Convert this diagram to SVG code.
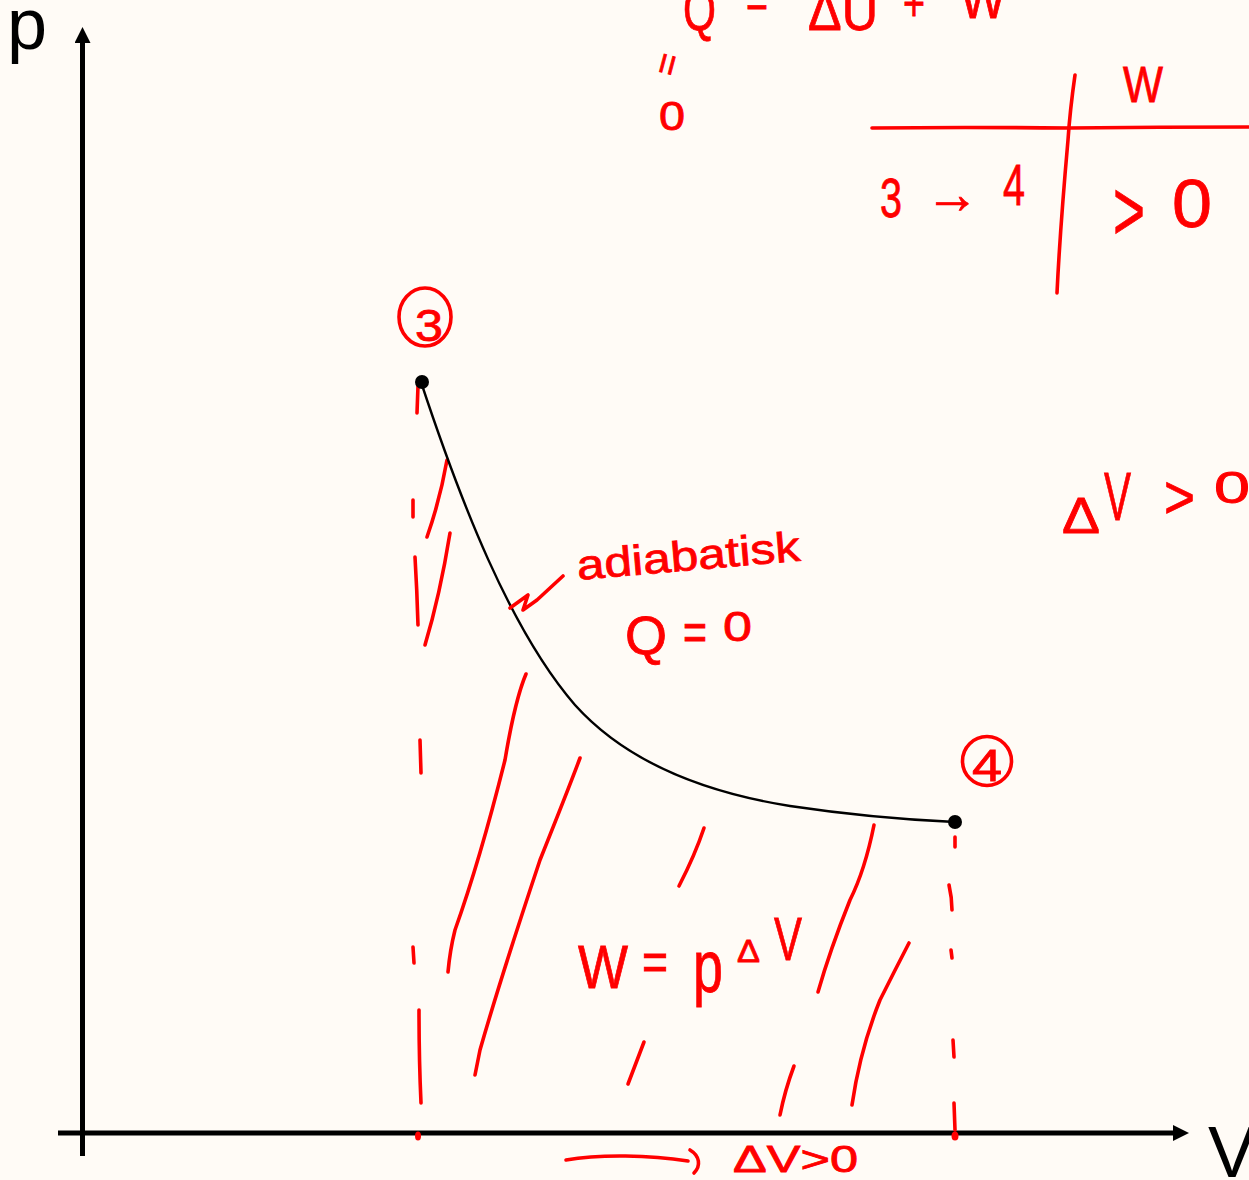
<svg xmlns="http://www.w3.org/2000/svg" width="1249" height="1180" viewBox="0 0 1249 1180">
<defs>
<marker id="axhead" viewBox="0 -8 16 16" markerWidth="16" markerHeight="16" refX="1" refY="0" markerUnits="userSpaceOnUse" orient="auto">
<path d="M0,-8 L16,0 L0,8 z" fill="#000"/>
</marker>
<style>
.ax{stroke:#000;stroke-width:5;fill:none}
.crv{stroke:#000;stroke-width:2.4;fill:none}
.r{stroke:#ff0000;stroke-width:3.6;fill:none;stroke-linecap:round;stroke-linejoin:round}
.rt{fill:#ff0000;stroke:#ff0000;stroke-width:0.8;font-family:"Liberation Sans",Arial,sans-serif}
.bt{fill:#000;font-family:"Liberation Sans",Arial,sans-serif}
</style>
</defs>
<rect width="1249" height="1180" fill="#fffbf6"/>

<g id="axes">
<line class="ax" x1="82.5" y1="1156" x2="82.5" y2="42" marker-end="url(#axhead)"/>
<line class="ax" x1="58" y1="1133" x2="1174" y2="1133" marker-end="url(#axhead)"/>
<text class="bt" x="7" y="49" font-size="72">p</text>
<text class="bt" x="1208" y="1177" font-size="72">V</text>
</g>

<g id="hatching">
<path class="r" d="M418,386 L417,413"/>
<path class="r" d="M413,500 L413,517"/>
<path class="r" d="M415,557 Q417,590 418,625"/>
<path class="r" d="M420,740 L421,773"/>
<path class="r" d="M413,947 L414,963"/>
<path class="r" d="M419,1010 Q419,1060 421,1103"/>
<path class="r" d="M955,837 L955,847"/>
<path class="r" d="M949,885 Q952,898 952,910"/>
<path class="r" d="M951,950 L952,958"/>
<path class="r" d="M953,1040 L954,1057"/>
<path class="r" d="M954,1103 L955,1130"/>
<path class="r" d="M447,460 Q440,500 427,537"/>
<path class="r" d="M450,533 Q440,595 425,645"/>
<path class="r" d="M526,674 Q515,700 505,760 Q480,860 455,930 Q450,950 448,972"/>
<path class="r" d="M580,758 Q570,785 540,860 Q500,980 480,1050 L475,1075"/>
<path class="r" d="M704,828 Q695,855 679,886"/>
<path class="r" d="M644,1042 L628,1084"/>
<path class="r" d="M794,1066 Q785,1090 780,1115"/>
<path class="r" d="M874,825 Q865,870 850,900 Q830,950 818,992"/>
<path class="r" d="M909,943 Q895,970 880,1000 Q860,1050 852,1105"/>
<ellipse cx="418" cy="1136" rx="3" ry="4.5" fill="#ff0000"/>
<ellipse cx="955" cy="1136" rx="3.5" ry="4.5" fill="#ff0000"/>
</g>

<g id="connectors">
<path id="adiabat-3-4" class="crv" d="M421,382 C460,500 510,630 575,705 C620,755 690,790 790,806 C850,815 910,820 955,822"/>
<path class="r" d="M510,608 L528,595 L523,610 L537,600 L563,576"/>
<path class="r" d="M566,1160 C600,1154 650,1155 688,1161"/>
<path class="r" d="M690,1150 C700,1156 701,1166 694,1173"/>
</g>

<g id="state-3">
<ellipse cx="425" cy="317" rx="26" ry="29" class="r"/>
<text class="rt" x="415" y="341" font-size="44" textLength="28" lengthAdjust="spacingAndGlyphs">3</text>
<circle cx="422" cy="382" r="7" fill="#000"/>
</g>

<g id="state-4">
<circle cx="987" cy="761" r="24.5" class="r"/>
<text class="rt" x="972" y="781" font-size="44" textLength="30" lengthAdjust="spacingAndGlyphs">4</text>
<circle cx="955" cy="822" r="7" fill="#000"/>
</g>

<g id="first-law">
<text class="rt" x="683" y="30" font-size="60" textLength="33" lengthAdjust="spacingAndGlyphs">Q</text>
<text class="rt" x="746" y="17" font-size="50" textLength="22" lengthAdjust="spacingAndGlyphs">=</text>
<text class="rt" x="808" y="30" font-size="55" textLength="70" lengthAdjust="spacingAndGlyphs">ΔU</text>
<text class="rt" x="903" y="20" font-size="50" textLength="22" lengthAdjust="spacingAndGlyphs">+</text>
<text class="rt" x="960" y="18" font-size="55" textLength="46" lengthAdjust="spacingAndGlyphs">W</text>
<text class="rt" x="0" y="0" font-size="36" textLength="22" lengthAdjust="spacingAndGlyphs" transform="translate(676,78) rotate(-75)">=</text>
<text class="rt" x="659" y="130" font-size="40" textLength="26" lengthAdjust="spacingAndGlyphs">0</text>
</g>

<g id="table">
<path class="r" d="M872,128 Q960,127 1069,128 Q1160,127 1249,127"/>
<path class="r" d="M1075,75 Q1070,110 1068,140 Q1060,230 1057,293"/>
<text class="rt" x="1123" y="102" font-size="50" textLength="40" lengthAdjust="spacingAndGlyphs">W</text>
<text class="rt" x="880" y="217" font-size="56" textLength="22" lengthAdjust="spacingAndGlyphs">3</text>
<text class="rt" x="925" y="213" font-size="56" textLength="54" lengthAdjust="spacingAndGlyphs">→</text>
<text class="rt" x="1003" y="205" font-size="58" textLength="22" lengthAdjust="spacingAndGlyphs">4</text>
<text class="rt" x="1113" y="240" font-size="85" textLength="32" lengthAdjust="spacingAndGlyphs">&gt;</text>
<text class="rt" x="1172" y="227" font-size="68" textLength="40" lengthAdjust="spacingAndGlyphs">0</text>
</g>

<g id="delta-v-right">
<text class="rt" x="1062" y="533" font-size="50" textLength="38" lengthAdjust="spacingAndGlyphs">Δ</text>
<text class="rt" x="1104" y="520" font-size="68" textLength="27" lengthAdjust="spacingAndGlyphs">V</text>
<text class="rt" x="1164" y="518" font-size="62" textLength="31" lengthAdjust="spacingAndGlyphs">&gt;</text>
<text class="rt" x="1214" y="503" font-size="44" textLength="36" lengthAdjust="spacingAndGlyphs">0</text>
</g>

<g id="adiabatic-label">
<text class="rt" x="578" y="580" font-size="42" textLength="224" lengthAdjust="spacingAndGlyphs" transform="rotate(-5 578 580)">adiabatisk</text>
<text class="rt" x="625" y="654" font-size="54" textLength="42" lengthAdjust="spacingAndGlyphs">Q</text>
<text class="rt" x="683" y="650" font-size="52" textLength="24" lengthAdjust="spacingAndGlyphs">=</text>
<text class="rt" x="723" y="641" font-size="43" textLength="29" lengthAdjust="spacingAndGlyphs">0</text>
</g>

<g id="work-label">
<text class="rt" x="578" y="988" font-size="62" textLength="50" lengthAdjust="spacingAndGlyphs">W</text>
<text class="rt" x="642" y="980" font-size="54" textLength="26" lengthAdjust="spacingAndGlyphs">=</text>
<text class="rt" x="693" y="992" font-size="74" textLength="30" lengthAdjust="spacingAndGlyphs">p</text>
<text class="rt" x="737" y="962" font-size="32" textLength="23" lengthAdjust="spacingAndGlyphs">Δ</text>
<text class="rt" x="774" y="960" font-size="62" textLength="28" lengthAdjust="spacingAndGlyphs">V</text>
</g>

<g id="delta-v-bottom">
<text class="rt" x="733" y="1172" font-size="36" textLength="125" lengthAdjust="spacingAndGlyphs">ΔV&gt;0</text>
</g>
</svg>
